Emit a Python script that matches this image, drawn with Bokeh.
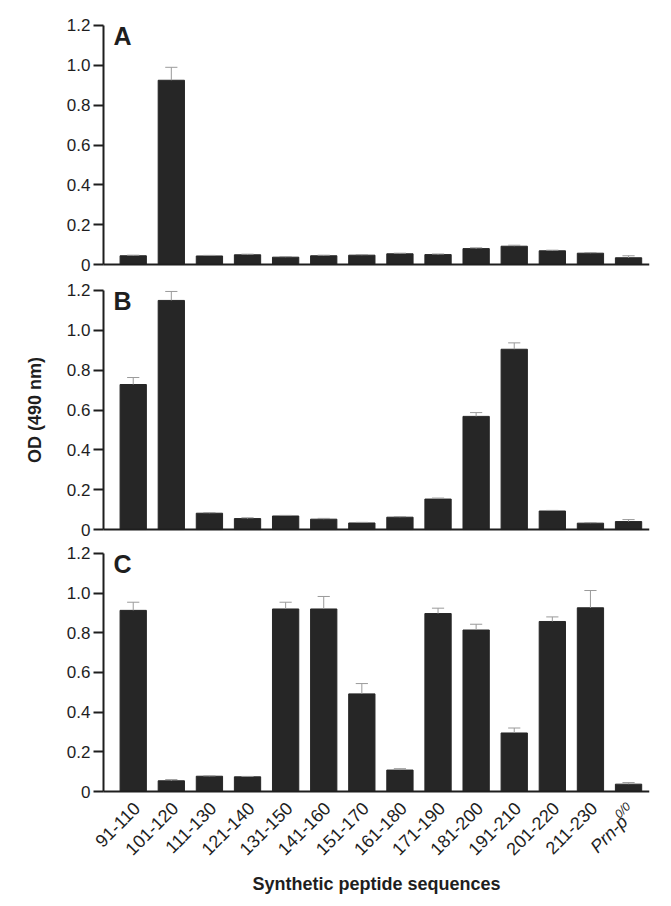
import math
from bokeh.plotting import figure
from bokeh.layouts import column
from bokeh.models import Range1d, FixedTicker, Label, ColumnDataSource
from bokeh.core.properties import value
from bokeh.embed import file_html
from bokeh.resources import INLINE

categories = ["91-110", "101-120", "111-130", "121-140", "131-150", "141-160", "151-170",
              "161-180", "171-190", "181-200", "191-210", "201-220", "211-230", "Prn-p"]
last_sup = "0/0"

a_mean = [0.044, 0.925, 0.043, 0.049, 0.037, 0.044, 0.047, 0.054, 0.050, 0.080, 0.092, 0.069, 0.057, 0.034]
a_err = [0.003, 0.065, 0.003, 0.003, 0.003, 0.003, 0.003, 0.003, 0.003, 0.004, 0.005, 0.003, 0.003, 0.010]

b_mean = [0.728, 1.150, 0.082, 0.055, 0.068, 0.052, 0.033, 0.062, 0.153, 0.568, 0.905, 0.093, 0.032, 0.040]
b_err = [0.035, 0.045, 0.003, 0.004, 0.003, 0.004, 0.003, 0.003, 0.005, 0.019, 0.032, 0.003, 0.003, 0.010]

c_mean = [0.913, 0.054, 0.077, 0.074, 0.920, 0.920, 0.492, 0.108, 0.897, 0.814, 0.295, 0.857, 0.926, 0.037]
c_err = [0.041, 0.006, 0.002, 0.002, 0.034, 0.063, 0.052, 0.007, 0.027, 0.029, 0.025, 0.023, 0.087, 0.008]

y_ticks = [0, 0.2, 0.4, 0.6, 0.8, 1.0, 1.2]
y_tick_labels = ["0", "0.2", "0.4", "0.6", "0.8", "1.0", "1.2"]

FONT = "Liberation Sans"
INK = "#1e1e1e"
BAR = "#262626"
ERR = "#9a9a9a"

X0, X1 = -0.78, 13.55          # span of the drawn axes
Y1 = 1.25
WIDTH = 663
AXIS_PX = 103                   # where the y axis should sit
LEFT, RIGHT = 12, 14            # frame borders
PPU_X = (WIDTH - AXIS_PX - RIGHT) / (X1 - X0)
X_START = X0 - (AXIS_PX - LEFT) / PPU_X
PPU_Y = 249 / Y1
Y0_AB = -0.06
AB_FRAME_H = round((Y1 - Y0_AB) * PPU_Y)


def style_yaxis(ya, ylabel=None):
    ya.fixed_location = X0
    ya.ticker = FixedTicker(ticks=y_ticks)
    ya.major_label_overrides = {t: l for t, l in zip(y_ticks, y_tick_labels)}
    ya.bounds = (0, 1.2)
    ya.minor_tick_line_color = None
    ya.major_tick_out = 10
    ya.major_tick_in = 0
    ya.major_tick_line_width = 2
    ya.major_tick_line_color = INK
    ya.axis_line_width = 2
    ya.axis_line_color = INK
    ya.major_label_standoff = 3
    ya.major_label_text_font = FONT
    ya.major_label_text_font_size = "17px"
    ya.major_label_text_color = INK
    if ylabel:
        ya.axis_label = ylabel
        ya.axis_label_text_font = FONT
        ya.axis_label_text_font_style = "bold"
        ya.axis_label_text_font_size = "18px"
        ya.axis_label_text_color = INK
        ya.axis_label_standoff = 19


def style_xaxis(xa):
    xa.fixed_location = 0
    xa.bounds = (X0, X1)
    xa.axis_line_width = 2
    xa.axis_line_color = INK
    xa.major_tick_out = 0
    xa.major_tick_in = 0
    xa.minor_tick_line_color = None
    xa.ticker = FixedTicker(ticks=[])
    xa.major_label_text_font_size = "0px"


def draw_bars(p, letter, mean, err):
    x = list(range(len(categories)))
    up = [m + e for m, e in zip(mean, err)]
    src = ColumnDataSource(dict(x=x, top=mean, up=up,
                                x0=[xi - 0.16 for xi in x], x1=[xi + 0.16 for xi in x]))
    p.vbar(x="x", top="top", bottom=0, width=0.69, source=src,
           fill_color=BAR, line_color=BAR)
    p.segment(x0="x", y0="top", x1="x", y1="up", source=src, line_color=ERR, line_width=1)
    p.segment(x0="x0", y0="up", x1="x1", y1="up", source=src, line_color=ERR, line_width=1)
    p.add_layout(Label(x=X0 + 0.26, y=1.145, text=letter, text_font=FONT,
                       text_font_style="bold", text_font_size="25px",
                       text_baseline="alphabetic", text_color=INK))


def base_figure(height, top, bottom, y_start, margin=None):
    kw = {}
    if margin is not None:
        kw["margin"] = margin
    p = figure(width=WIDTH, height=height, output_backend="svg", toolbar_location=None,
               x_range=Range1d(X_START, X1), y_range=Range1d(y_start, Y1),
               min_border_left=LEFT, min_border_right=RIGHT,
               min_border_top=top, min_border_bottom=bottom, **kw)
    p.outline_line_color = None
    p.xgrid.visible = False
    p.ygrid.visible = False
    p.background_fill_alpha = 0
    p.border_fill_alpha = 0
    return p


# Panel A  (frame top at 15px, zero line at 264px)
pa = base_figure(15 + AB_FRAME_H + 8, 15, 8, Y0_AB)
style_yaxis(pa.yaxis[0])
style_xaxis(pa.xaxis[0])
draw_bars(pa, "A", a_mean, a_err)

# Panel B  (frame top at 280px, zero line at 529px)
pb = base_figure(20 + AB_FRAME_H + 8, 20, 8, Y0_AB, margin=(-24, 0, 0, 0))
style_yaxis(pb.yaxis[0], ylabel="OD (490 nm)")
style_xaxis(pb.xaxis[0])
draw_bars(pb, "B", b_mean, b_err)

# Panel C: frame extended downward so the slanted labels and title sit inside it
c_frame_h = 353
c_ppu_y = 248 / Y1
c_ystart = Y1 - c_frame_h / c_ppu_y
pc = base_figure(20 + c_frame_h + 4, 20, 4, c_ystart, margin=(-26, 0, 0, 0))
style_yaxis(pc.yaxis[0])
style_xaxis(pc.xaxis[0])
draw_bars(pc, "C", c_mean, c_err)

xs = list(range(len(categories)))
pc.text(x=xs[:-1], y=[0] * (len(xs) - 1), text=categories[:-1], angle=math.pi / 4,
        text_align="right", text_baseline="top", x_offset=-1, y_offset=9,
        text_font=value(FONT), text_font_size="18px", text_color=INK)
pc.text(x=[xs[-1]], y=[0], text=[categories[-1]], angle=math.pi / 4,
        text_align="right", text_baseline="top", x_offset=-11, y_offset=20,
        text_font=value(FONT), text_font_style="italic", text_font_size="18px", text_color=INK)
pc.text(x=[xs[-1]], y=[0], text=[last_sup], angle=math.pi / 4,
        text_align="right", text_baseline="top", x_offset=-5, y_offset=8,
        text_font=value(FONT), text_font_style="italic", text_font_size="12px", text_color=INK)
pc.text(x=[(X0 + X1) / 2], y=[0], text=["Synthetic peptide sequences"],
        text_align="center", text_baseline="alphabetic", y_offset=92,
        text_font=value(FONT), text_font_style="bold", text_font_size="18px", text_color=INK)

layout = column(pa, pb, pc, spacing=0)
open("out.html", "w").write(file_html(layout, INLINE))
